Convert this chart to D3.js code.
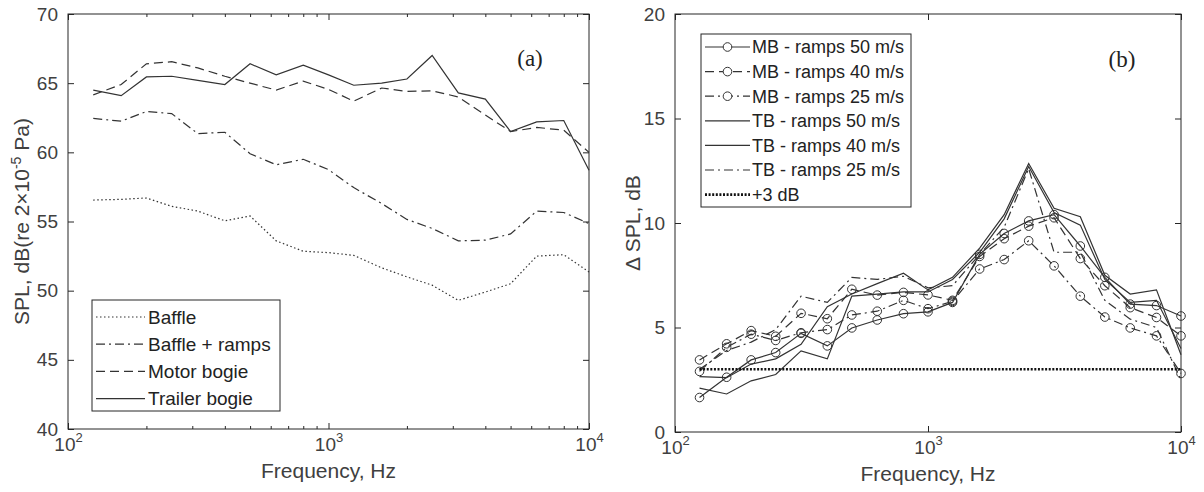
<!DOCTYPE html>
<html>
<head>
<meta charset="utf-8">
<script src="https://cdnjs.cloudflare.com/ajax/libs/d3/7.8.5/d3.min.js"></script>
<style>
  body { margin: 0; background: #fff; }
  svg { font-family: Arial, "Liberation Sans", sans-serif; }
</style>
</head>
<body>
<div id="chart"></div>
<script>
// one-third octave band centres, Hz
const freqs = [125, 160, 200, 250, 315, 400, 500, 630, 800, 1000, 1250, 1600, 2000, 2500, 3150, 4000, 5000, 6300, 8000, 10000];

// panel (a): SPL, dB
const baffle       = [56.55, 56.6, 56.7, 56.1, 55.75, 55.05, 55.4, 53.6, 52.85, 52.75, 52.55, 51.65, 51.0, 50.4, 49.3, 49.9, 50.5, 52.5, 52.6, 51.35];
const baffleRamps  = [62.45, 62.25, 62.95, 62.8, 61.35, 61.45, 59.9, 59.1, 59.5, 58.75, 57.45, 56.3, 55.15, 54.5, 53.6, 53.65, 54.1, 55.75, 55.65, 54.85];
const motorBogie   = [64.15, 64.9, 66.4, 66.55, 66.1, 65.5, 65.0, 64.5, 65.15, 64.55, 63.7, 64.65, 64.4, 64.45, 64.0, 62.7, 61.5, 61.8, 61.6, 60.0];
const trailerBogie = [64.5, 64.1, 65.45, 65.5, 65.2, 64.9, 66.4, 65.6, 66.3, 65.6, 64.85, 65.0, 65.3, 67.0, 64.3, 63.85, 61.5, 62.2, 62.3, 58.7];

// panel (b): delta SPL, dB
const mb50 = [1.65, 2.62, 3.45, 3.8, 4.72, 4.12, 4.98, 5.36, 5.66, 5.75, 6.2, 8.5, 9.5, 10.1, 10.4, 8.9, 7.4, 6.12, 6.05, 5.55];
const mb40 = [3.45, 4.22, 4.85, 4.58, 5.68, 5.42, 6.83, 6.55, 6.68, 6.56, 6.3, 8.4, 9.25, 9.85, 10.25, 8.3, 7.0, 5.95, 5.48, 4.6];
const mb25 = [2.9, 4.05, 4.68, 4.38, 4.75, 4.9, 5.6, 5.78, 6.3, 5.9, 6.25, 7.8, 8.25, 9.15, 7.95, 6.5, 5.5, 4.98, 4.6, 2.8];
const tb50 = [2.65, 2.6, 3.25, 3.5, 4.2, 6.0, 6.6, 7.1, 7.6, 6.8, 7.4, 8.8, 10.4, 12.85, 10.7, 10.3, 7.5, 6.6, 6.8, 3.7];
const tb40 = [2.1, 1.82, 2.45, 2.75, 3.88, 3.5, 6.5, 6.6, 6.7, 6.7, 7.3, 8.6, 10.2, 12.7, 10.5, 9.9, 7.3, 6.2, 6.3, 4.0];
const tb25 = [3.0, 3.9, 4.3, 4.9, 6.5, 6.2, 7.4, 7.3, 7.45, 6.9, 7.0, 8.5, 9.8, 12.6, 8.6, 8.6, 6.3, 5.4, 5.0, 2.5];
const refFreqs = [125, 10000];
const refLevel = [3, 3];

// ticks
const xMajor = [100, 1000, 10000];
const xMinor = [200, 300, 400, 500, 600, 700, 800, 900, 2000, 3000, 4000, 5000, 6000, 7000, 8000, 9000];
const aYTicks = [40, 45, 50, 55, 60, 65, 70];
const bYTicks = [0, 5, 10, 15, 20];

const aLabels = ["Baffle", "Baffle + ramps", "Motor bogie", "Trailer bogie"];
const bLabels = ["MB - ramps 50 m/s", "MB - ramps 40 m/s", "MB - ramps 25 m/s",
                 "TB - ramps 50 m/s", "TB - ramps 40 m/s", "TB - ramps 25 m/s", "+3 dB"];

const ink = "#333";
const axisInk = "#262626";
const textInk = "#404040";
const dash = { solid: null, dashed: "9,5", dashdot: "9,4,2,4", dotted: "1.5,2.5" };

const svg = d3.select("#chart").append("svg")
  .attr("width", 1204)
  .attr("height", 492);

function drawAxes(box, x, y, yTicks, minor, ylabel) {
  const g = svg.append("g");
  const b = box;

  // x axis bottom / top
  g.append("g").attr("transform", `translate(0,${b.bottom})`)
    .call(d3.axisBottom(x).tickValues(xMajor).tickSize(-6).tickPadding(22).tickFormat(d => Math.round(Math.log10(d))))
    .call(s => s.select(".domain").remove())
    .call(s => {
      s.selectAll(".tick text").each(function(d) {
        const t = d3.select(this);
        const e = t.text();
        t.text("10").attr("dy", null).style("font-size", "19px").attr("fill", textInk);
        t.append("tspan").attr("dy", -9).style("font-size", "13px").text(e);
      });
    });
  g.append("g").attr("transform", `translate(0,${b.top})`)
    .call(d3.axisTop(x).tickValues(xMajor).tickSize(-6).tickFormat(""))
    .call(s => s.select(".domain").remove());
  if (minor) {
    g.append("g").attr("transform", `translate(0,${b.bottom})`)
      .call(d3.axisBottom(x).tickValues(xMinor).tickSize(-3).tickFormat(""))
      .call(s => s.select(".domain").remove());
    g.append("g").attr("transform", `translate(0,${b.top})`)
      .call(d3.axisTop(x).tickValues(xMinor).tickSize(-3).tickFormat(""))
      .call(s => s.select(".domain").remove());
  }

  // y axis left / right
  g.append("g").attr("transform", `translate(${b.left},0)`)
    .call(d3.axisLeft(y).tickValues(yTicks).tickSize(-6).tickPadding(10))
    .call(s => s.select(".domain").remove())
    .call(s => s.selectAll(".tick text").style("font-size", "19px").attr("fill", textInk));
  g.append("g").attr("transform", `translate(${b.right},0)`)
    .call(d3.axisRight(y).tickValues(yTicks).tickSize(-6).tickFormat(""))
    .call(s => s.select(".domain").remove());

  g.selectAll(".tick line").attr("stroke", axisInk);

  g.append("rect")
    .attr("x", b.left).attr("y", b.top)
    .attr("width", b.right - b.left).attr("height", b.bottom - b.top)
    .attr("fill", "none").attr("stroke", axisInk).attr("stroke-width", 1);

  g.append("text")
    .attr("x", (b.left + b.right) / 2).attr("y", b.bottom + 49)
    .attr("text-anchor", "middle")
    .style("font-size", "21px").attr("fill", textInk)
    .text("Frequency, Hz");

  const yl = g.append("text")
    .attr("transform", `translate(${ylabel.x},${(b.top + b.bottom) / 2}) rotate(-90)`)
    .attr("text-anchor", "middle")
    .style("font-size", "21px").attr("fill", textInk);
  ylabel.build(yl);
}

function drawSeries(x, y, values, style, markers) {
  const pts = freqs.map((f, i) => [f, values[i]]);
  const line = d3.line().x(d => x(d[0])).y(d => y(d[1]));
  svg.append("path")
    .attr("d", line(pts))
    .attr("fill", "none")
    .attr("stroke", ink)
    .attr("stroke-width", 1.2)
    .attr("stroke-dasharray", dash[style]);
  if (markers) {
    svg.append("g").selectAll("circle")
      .data(pts)
      .enter()
      .append("circle")
      .attr("cx", d => x(d[0]))
      .attr("cy", d => y(d[1]))
      .attr("r", 4.3)
      .attr("fill", "none")
      .attr("stroke", ink)
      .attr("stroke-width", 1);
  }
}

// ---------- panel (a) ----------
const boxA = { left: 68, right: 589, top: 14, bottom: 429 };
const xA = d3.scaleLog().domain([100, 10000]).range([boxA.left, boxA.right]);
const yA = d3.scaleLinear().domain([40, 70]).range([boxA.bottom, boxA.top]);

drawAxes(boxA, xA, yA, aYTicks, true, {
  x: 29,
  build: t => {
    t.append("tspan").text("SPL, dB(re 2\u00d710");
    t.append("tspan").attr("dy", -8).style("font-size", "14px").text("-5");
    t.append("tspan").attr("dy", 8).text(" Pa)");
  }
});

const aStyles = ["dotted", "dashdot", "dashed", "solid"];
[baffle, baffleRamps, motorBogie, trailerBogie].forEach((v, i) => drawSeries(xA, yA, v, aStyles[i], false));

svg.append("text")
  .attr("x", 530).attr("y", 66)
  .attr("text-anchor", "middle")
  .style("font-family", "'Liberation Serif', 'DejaVu Serif', serif")
  .style("font-size", "23px")
  .attr("fill", "#222")
  .text("(a)");

const legA = svg.append("g");
legA.append("rect")
  .attr("x", 92).attr("y", 300).attr("width", 188).attr("height", 111)
  .attr("fill", "#fff").attr("stroke", axisInk);
aLabels.forEach((lab, i) => {
  const ly = 317 + i * 27.2;
  legA.append("line")
    .attr("x1", 96).attr("x2", 145).attr("y1", ly).attr("y2", ly)
    .attr("stroke", ink).attr("stroke-width", 1.2)
    .attr("stroke-dasharray", dash[aStyles[i]]);
  legA.append("text")
    .attr("x", 148).attr("y", ly).attr("dy", "0.35em")
    .style("font-size", "19px").attr("fill", "#222")
    .text(lab);
});

// ---------- panel (b) ----------
const boxB = { left: 675, right: 1181, top: 14, bottom: 432 };
const xB = d3.scaleLog().domain([100, 10000]).range([boxB.left, boxB.right]);
const yB = d3.scaleLinear().domain([0, 20]).range([boxB.bottom, boxB.top]);

drawAxes(boxB, xB, yB, bYTicks, false, {
  x: 640,
  build: t => t.text("\u0394 SPL, dB")
});

const bSeries = [mb50, mb40, mb25, tb50, tb40, tb25];
const bStyles = ["solid", "dashed", "dashdot", "solid", "solid", "dashdot"];
const bMarkers = [true, true, true, false, false, false];
bSeries.forEach((v, i) => drawSeries(xB, yB, v, bStyles[i], bMarkers[i]));

// +3 dB reference
svg.append("path")
  .attr("d", d3.line().x(d => xB(d[0])).y(d => yB(d[1]))(refFreqs.map((f, i) => [f, refLevel[i]])))
  .attr("fill", "none")
  .attr("stroke", "#111")
  .attr("stroke-width", 2.6)
  .attr("stroke-dasharray", "2,1.6");

svg.append("text")
  .attr("x", 1122).attr("y", 67)
  .attr("text-anchor", "middle")
  .style("font-family", "'Liberation Serif', 'DejaVu Serif', serif")
  .style("font-size", "23px")
  .attr("fill", "#222")
  .text("(b)");

const legB = svg.append("g");
legB.append("rect")
  .attr("x", 701).attr("y", 34).attr("width", 210).attr("height", 173)
  .attr("fill", "#fff").attr("stroke", axisInk);
bLabels.forEach((lab, i) => {
  const ly = 47 + i * 24.6;
  const isRef = i === 6;
  legB.append("line")
    .attr("x1", 705).attr("x2", 750).attr("y1", ly).attr("y2", ly)
    .attr("stroke", isRef ? "#111" : ink)
    .attr("stroke-width", isRef ? 2.6 : 1.2)
    .attr("stroke-dasharray", isRef ? "2,1.6" : dash[bStyles[i]]);
  if (!isRef && bMarkers[i]) {
    legB.append("circle")
      .attr("cx", 727.5).attr("cy", ly).attr("r", 4.3)
      .attr("fill", "#fff").attr("stroke", ink);
  }
  legB.append("text")
    .attr("x", 752).attr("y", ly).attr("dy", "0.35em")
    .style("font-size", "18px").attr("fill", "#222")
    .text(lab);
});
</script>
</body>
</html>
